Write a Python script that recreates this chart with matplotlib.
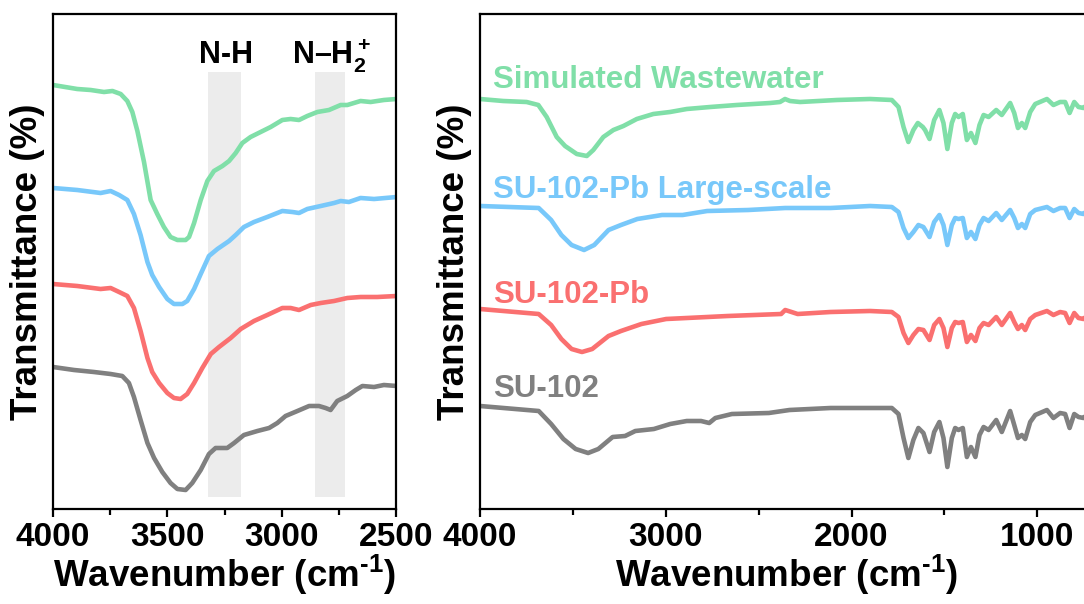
import numpy as np
import matplotlib
matplotlib.use('Agg')
import matplotlib.pyplot as plt
from matplotlib.ticker import MultipleLocator

plt.rcParams['font.family'] = ['Liberation Sans', 'DejaVu Sans']
plt.rcParams['font.weight'] = 'bold'
plt.rcParams['mathtext.fontset'] = 'custom'
plt.rcParams['mathtext.rm'] = 'Liberation Sans:bold'
plt.rcParams['mathtext.it'] = 'Liberation Sans:bold'
plt.rcParams['mathtext.bf'] = 'Liberation Sans:bold'
plt.rcParams['axes.linewidth'] = 1.6

# FTIR spectra, stacked with offsets (arbitrary units)
# --- zoomed 4000-2500 cm-1 region ---
wn_green_l = [4000, 3894, 3835, 3777, 3740, 3704, 3675, 3653, 3631, 3602, 3573, 3544, 3515, 3486,
              3456, 3420, 3405, 3383, 3354, 3325, 3296, 3259, 3230, 3201, 3172, 3136, 3092, 3048,
              2997, 2961, 2924, 2888, 2844, 2793, 2742, 2713, 2655, 2611, 2553, 2497]
t_green_l = [424, 420, 419, 417, 418, 415, 408, 397, 378, 347, 309, 295, 282, 272,
             269, 269, 272, 286, 309, 328, 338, 343, 348, 356, 366, 372, 377, 382,
             389, 390, 389, 393, 397, 399, 404, 404, 408, 407, 409, 410]

wn_blue_l = [4000, 3894, 3792, 3748, 3711, 3675, 3646, 3617, 3587, 3566, 3536, 3500, 3471, 3434,
             3413, 3383, 3354, 3318, 3281, 3230, 3201, 3165, 3121, 3063, 2997, 2953, 2924, 2888,
             2829, 2771, 2742, 2706, 2655, 2596, 2497]
t_blue_l = [321, 319, 316, 318, 314, 309, 295, 274, 247, 234, 222, 210, 205, 205,
            208, 220, 235, 253, 260, 268, 274, 282, 287, 292, 298, 297, 296, 300,
            303, 306, 308, 307, 311, 310, 312]

wn_red_l = [4000, 3894, 3792, 3748, 3711, 3675, 3646, 3617, 3587, 3566, 3536, 3500, 3471, 3442,
            3413, 3383, 3347, 3310, 3274, 3223, 3179, 3121, 3063, 2997, 2961, 2924, 2873, 2829,
            2771, 2713, 2655, 2582, 2497]
t_red_l = [225, 223, 220, 221, 217, 213, 201, 178, 151, 137, 126, 116, 111, 110,
           115, 126, 141, 155, 162, 171, 180, 188, 194, 201, 201, 199, 204, 206,
           208, 211, 212, 212, 213]

wn_gray_l = [4000, 3908, 3821, 3748, 3697, 3668, 3646, 3617, 3587, 3558, 3522, 3486, 3456, 3420,
             3391, 3354, 3318, 3289, 3238, 3208, 3165, 3106, 3055, 3019, 2983, 2931, 2880, 2837,
             2808, 2786, 2757, 2713, 2676, 2647, 2596, 2553, 2497]
t_gray_l = [142, 139, 137, 135, 133, 126, 112, 89, 66, 51, 37, 26, 20, 19,
            26, 39, 55, 61, 61, 66, 74, 78, 81, 86, 93, 98, 103, 103,
            101, 99, 108, 113, 119, 123, 122, 124, 123]

# --- full 4000-700 cm-1 range ---
wn_green_r = [4000, 3875, 3749, 3686, 3641, 3587, 3542, 3479, 3425, 3390, 3336, 3282, 3228, 3156,
              3067, 2977, 2887, 2761, 2618, 2438, 2385, 2358, 2331, 2277, 2079, 1900, 1783, 1747,
              1720, 1694, 1667, 1643, 1616, 1604, 1580, 1555, 1527, 1505, 1484, 1460, 1442, 1424,
              1401, 1379, 1357, 1333, 1311, 1289, 1262, 1221, 1191, 1146, 1124, 1104, 1083, 1065,
              1038, 1011, 948, 913, 877, 850, 826, 801, 778, 751, 735]
t_green_r = [410, 408, 407, 404, 392, 372, 363, 355, 353, 359, 372, 379, 383, 390,
             395, 397, 400, 402, 404, 406, 407, 410, 408, 407, 409, 410, 409, 402,
             382, 367, 379, 386, 382, 379, 370, 389, 399, 386, 360, 386, 395, 392,
             395, 369, 376, 366, 384, 394, 392, 399, 394, 406, 396, 381, 386, 381,
             397, 405, 410, 404, 407, 407, 396, 407, 402, 401, 404]

wn_blue_r = [4000, 3684, 3617, 3562, 3507, 3440, 3385, 3308, 3241, 3153, 3020, 2909, 2777, 2556,
             2357, 2113, 1900, 1783, 1747, 1720, 1694, 1667, 1640, 1613, 1580, 1555, 1527, 1505,
             1484, 1460, 1442, 1424, 1401, 1379, 1357, 1333, 1311, 1289, 1262, 1221, 1191, 1146,
             1124, 1104, 1083, 1065, 1038, 1011, 948, 913, 877, 850, 826, 801, 778, 751, 735]
t_blue_r = [303, 301, 289, 274, 264, 259, 264, 279, 284, 290, 294, 294, 298, 299,
            301, 301, 303, 302, 297, 281, 271, 277, 284, 282, 272, 287, 294, 284,
            264, 284, 291, 290, 291, 271, 277, 270, 284, 291, 288, 296, 289, 299,
            291, 281, 285, 281, 295, 299, 302, 298, 301, 301, 291, 300, 296, 295, 298]

wn_red_r = [4000, 3684, 3617, 3562, 3507, 3451, 3396, 3308, 3241, 3131, 2998, 2887, 2666, 2379,
            2357, 2323, 2290, 2113, 1900, 1783, 1747, 1720, 1694, 1667, 1640, 1613, 1580, 1555,
            1527, 1505, 1484, 1460, 1442, 1424, 1401, 1379, 1357, 1333, 1311, 1289, 1262, 1221,
            1191, 1146, 1124, 1104, 1083, 1065, 1038, 1011, 948, 913, 877, 850, 826, 801, 778,
            751, 735]
t_red_r = [200, 195, 184, 170, 160, 157, 160, 173, 178, 185, 190, 191, 193, 195,
           199, 197, 195, 197, 198, 197, 192, 176, 166, 174, 180, 179, 169, 184,
           190, 181, 162, 181, 187, 186, 187, 167, 174, 168, 181, 186, 184, 192,
           184, 196, 187, 180, 184, 179, 190, 194, 198, 194, 197, 196, 186, 196, 191,
           190, 193]

wn_gray_r = [4000, 3684, 3617, 3551, 3485, 3418, 3363, 3286, 3219, 3164, 3064, 2976, 2887, 2810,
             2766, 2733, 2644, 2445, 2334, 2113, 1900, 1783, 1747, 1720, 1694, 1667, 1640, 1613,
             1580, 1555, 1527, 1505, 1484, 1460, 1442, 1424, 1401, 1379, 1357, 1333, 1311, 1289,
             1262, 1221, 1191, 1146, 1124, 1104, 1083, 1065, 1038, 1011, 948, 913, 877, 850, 826,
             801, 778, 751, 735]
t_gray_r = [103, 98, 85, 70, 60, 56, 60, 72, 73, 78, 80, 85, 88, 88,
            86, 91, 95, 96, 99, 101, 101, 101, 95, 71, 51, 69, 81, 76,
            57, 77, 87, 71, 42, 71, 81, 79, 81, 52, 62, 52, 74, 82,
            79, 89, 77, 98, 84, 71, 74, 70, 87, 94, 99, 91, 96, 95, 81,
            95, 92, 91, 94]

samples = ['Simulated Wastewater', 'SU-102-Pb Large-scale', 'SU-102-Pb', 'SU-102']
colors = ['#80dfa8', '#78c8fa', '#fa7070', '#808080']
label_heights = [421, 311, 206, 112]

left_data = [(wn_green_l, t_green_l), (wn_blue_l, t_blue_l), (wn_red_l, t_red_l), (wn_gray_l, t_gray_l)]
right_data = [(wn_green_r, t_green_r), (wn_blue_r, t_blue_r), (wn_red_r, t_red_r), (wn_gray_r, t_gray_r)]

fig = plt.figure(figsize=(10.84, 6.04), dpi=100)
ax1 = fig.add_axes([53 / 1084, 95 / 604, 343 / 1084, 495 / 604])
ax2 = fig.add_axes([480 / 1084, 95 / 604, 613 / 1084, 495 / 604])

for (wn, t), c in zip(left_data, colors):
    ax1.plot(wn, t, color=c, lw=3.3, solid_joinstyle='round', solid_capstyle='round')
for (wn, t), c in zip(right_data, colors):
    ax2.plot(wn, t, color=c, lw=3.3, solid_joinstyle='round', solid_capstyle='round')

# N-H and N-H2+ bands
ax1.axvspan(3320, 3180, ymin=0.024, ymax=0.883, color='#ececec', lw=0, zorder=0)
ax1.axvspan(2855, 2725, ymin=0.024, ymax=0.883, color='#ececec', lw=0, zorder=0)
ax1.text(3244, 446, 'N-H', fontsize=22, fontweight='bold', ha='center', va='baseline')
ax1.text(2956, 446, r'N–H$_2^+$', fontsize=22, fontweight='bold', ha='left', va='baseline')

for name, c, h in zip(samples, colors, label_heights):
    ax2.text(3930, h, name, color=c, fontsize=22.5, fontweight='bold', ha='left', va='baseline')

ax1.set_xlim(4000, 2500)
ax1.xaxis.set_major_locator(MultipleLocator(500))
ax1.xaxis.set_minor_locator(MultipleLocator(250))
ax2.set_xlim(4000, 700)
ax2.xaxis.set_major_locator(MultipleLocator(1000))
ax2.xaxis.set_minor_locator(MultipleLocator(500))

for ax in (ax1, ax2):
    ax.set_ylim(0, 495)
    ax.tick_params(axis='x', which='major', direction='out', length=6, width=1.6, labelsize=24, pad=3)
    ax.tick_params(axis='x', which='minor', direction='out', length=4, width=1.6)
    ax.tick_params(axis='y', which='both', left=False, labelleft=False)
    ax.set_xlabel(r'Wavenumber (cm$^{\text{-}1}$)', fontsize=26.5, fontweight='bold', labelpad=0)
    ax.set_ylabel('Transmittance (%)', fontsize=26.5, fontweight='bold', labelpad=6)
    for lab in ax.get_xticklabels():
        lab.set_fontweight('bold')

fig.savefig('out.png', dpi=100)
